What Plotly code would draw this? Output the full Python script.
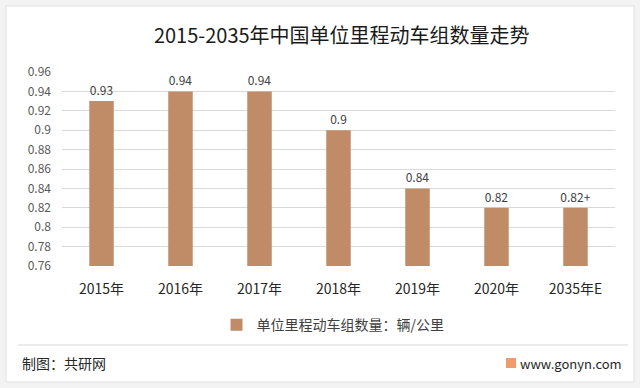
import plotly.graph_objects as go

categories = ["2015年", "2016年", "2017年", "2018年", "2019年", "2020年", "2035年E"]
values = [0.93, 0.94, 0.94, 0.90, 0.84, 0.82, 0.82]
value_labels = ["0.93", "0.94", "0.94", "0.9", "0.84", "0.82", "0.82+"]
y_ticks = [0.76, 0.78, 0.80, 0.82, 0.84, 0.86, 0.88, 0.90, 0.92, 0.94, 0.96]
y_tick_labels = ["0.76", "0.78", "0.8", "0.82", "0.84", "0.86", "0.88", "0.9", "0.92", "0.94", "0.96"]
series_name = "单位里程动车组数量：辆/公里"

FONT = "Noto Sans CJK SC, Noto Sans, sans-serif"
W, H = 640, 388

fig = go.Figure()
fig.add_trace(go.Bar(
    x=categories, y=values, name=series_name,
    marker=dict(color="#BF8C67", line=dict(width=0)),
    width=0.31,
    text=value_labels, textposition="outside", constraintext="none",
    textfont=dict(size=12, color="#404040", family=FONT),
    cliponaxis=False,
))

fig.update_layout(
    width=W, height=H,
    paper_bgcolor="#F3F3F3",
    plot_bgcolor="rgba(0,0,0,0)",
    margin=dict(l=62, r=25, t=72, b=122),
    font=dict(family=FONT, color="#404040"),
    showlegend=True,
    legend=dict(orientation="h", x=(333 - 62) / 553, xanchor="center", y=-0.305, yanchor="middle",
                font=dict(size=14, color="#404040", family=FONT),
                itemwidth=30, bgcolor="rgba(0,0,0,0)"),
    xaxis=dict(showgrid=False, showline=False, ticks="", tickfont=dict(size=14, color="#262626"),
               ticklabelstandoff=13),
    yaxis=dict(range=[0.76, 0.96], tickvals=y_ticks, ticktext=y_tick_labels,
               showgrid=True, gridcolor="#D9D9D9", gridwidth=1, zeroline=False,
               showline=False, tickfont=dict(size=12, color="#595959"), ticklabelstandoff=10),
    title=dict(text="2015-2035年中国单位里程动车组数量走势", x=0.534, xanchor="center",
               y=1 - 36 / H, yanchor="middle", font=dict(size=20, color="#1a1a1a", family=FONT)),
)

shapes = [
    dict(type="rect", xref="paper", yref="paper", layer="below",
         x0=-56 / 553, x1=(634 - 62) / 553, y0=-116 / 194, y1=1 + 66 / 194,
         fillcolor="white", line=dict(color="#E2E2E2", width=1)),
    dict(type="line", xref="paper", yref="paper",
         x0=-44 / 553, x1=(628 - 62) / 553, y0=-(345 - 266) / 194, y1=-(345 - 266) / 194,
         line=dict(color="#E6E6E6", width=1.5)),
    dict(type="rect", xref="paper", yref="paper",
         x0=(506 - 62) / 553, x1=(516 - 62) / 553, y0=-(368 - 266) / 194, y1=-(358 - 266) / 194,
         fillcolor="#F09A6E", line=dict(width=0)),
]
fig.update_layout(shapes=shapes)

fig.add_annotation(text="制图：共研网", xref="paper", yref="paper",
                   x=-42 / 553, xanchor="left", y=-(363 - 266) / 194, yanchor="middle",
                   showarrow=False, font=dict(size=14, color="#262626", family=FONT))
fig.add_annotation(text="www.gonyn.com", xref="paper", yref="paper",
                   x=(624 - 62) / 553, xanchor="right", y=-(363 - 266) / 194, yanchor="middle",
                   showarrow=False, font=dict(size=13, color="#262626", family=FONT))

fig.write_html("out.html", config={"displayModeBar": False},
               post_script="document.body.style.margin='0';document.body.style.overflow='hidden';")
